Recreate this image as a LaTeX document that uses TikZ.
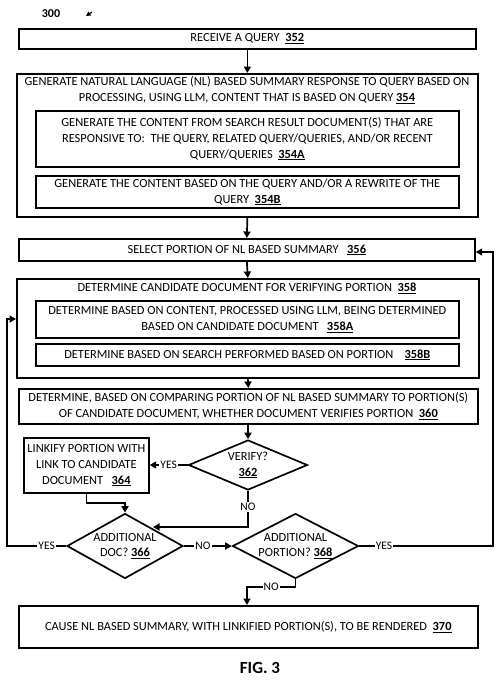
\documentclass[tikz,border=0pt]{standalone}
\usepackage{fontspec}
\setmainfont{Carlito}
\usetikzlibrary{shapes.geometric,arrows.meta}
\newcommand\rn[1]{\textbf{\underline{#1}}}
\begin{document}
\begin{tikzpicture}[x=1pt,y=-1pt,
  box/.style={draw,line width=1.7pt,inner sep=0pt,anchor=north west,align=center,font=\fontsize{12.4}{15.8}\selectfont},
  tx/.style={inner sep=0pt,align=center,font=\fontsize{12.4}{15.8}\selectfont},
  dia/.style={draw,line width=1.7pt,shape=diamond,inner sep=0pt,aspect=2,align=center,font=\fontsize{12.4}{15.8}\selectfont},
  arr/.style={line width=1.7pt,-{Triangle[length=6.5pt,width=7pt]}},
  lab/.style={fill=white,inner sep=1pt,font=\fontsize{11.5}{13}\selectfont}]
\useasboundingbox (0,0) rectangle (499,680);
\node[inner sep=0pt,font=\bfseries\fontsize{12}{14}\selectfont] (n300) at (51,14) {300};
\coordinate (p1) at (92,12);
\coordinate (p2) at (86,16);
\draw[line width=1.2pt,-{Triangle[length=4.5pt,width=4.5pt]}] (p1) -- (p2);

\node[box,minimum width=457pt,minimum height=20pt] (b352) at (18,28) {RECEIVE A QUERY\ \ \rn{352}};

\node[box,minimum width=461pt,minimum height=143pt] (b354) at (16,73) {};
\node[tx] (t354) at (247,90) {GENERATE NATURAL LANGUAGE (NL) BASED SUMMARY RESPONSE TO QUERY BASED ON\\PROCESSING, USING LLM, CONTENT THAT IS BASED ON QUERY \rn{354}};
\node[box,minimum width=423pt,minimum height=56pt] (b354a) at (35,110) {GENERATE THE CONTENT FROM SEARCH RESULT DOCUMENT(S) THAT ARE\\RESPONSIVE TO:\ \ THE QUERY, RELATED QUERY/QUERIES, AND/OR RECENT\\QUERY/QUERIES\ \ \rn{354A}};
\node[box,minimum width=423pt,minimum height=32pt] (b354b) at (35,175) {GENERATE THE CONTENT BASED ON THE QUERY AND/OR A REWRITE OF THE\\QUERY\ \ \rn{354B}};

\node[box,minimum width=456pt,minimum height=22pt] (b356) at (18,238) {SELECT PORTION OF NL BASED SUMMARY\ \ \ \rn{356}};

\node[box,minimum width=462pt,minimum height=99pt] (b358) at (16,278) {};
\node[tx] (t358) at (247,288) {DETERMINE CANDIDATE DOCUMENT FOR VERIFYING PORTION\ \ \rn{358}};
\node[box,minimum width=423pt,minimum height=37pt] (b358a) at (35,300) {DETERMINE BASED ON CONTENT, PROCESSED USING LLM, BEING DETERMINED\\BASED ON CANDIDATE DOCUMENT\ \ \ \rn{358A}};
\node[box,minimum width=423pt,minimum height=22pt] (b358b) at (35,343) {DETERMINE BASED ON SEARCH PERFORMED BASED ON PORTION\ \ \ \ \rn{358B}};

\node[box,minimum width=459pt,minimum height=35pt] (b360) at (18,388) {DETERMINE, BASED ON COMPARING PORTION OF NL BASED SUMMARY TO PORTION(S)\\OF CANDIDATE DOCUMENT, WHETHER DOCUMENT VERIFIES PORTION\ \ \rn{360}};

\node[dia,minimum width=119pt,minimum height=50pt] (d362) at (248,465) {VERIFY?\\\rn{362}};
\node[box,minimum width=125pt,minimum height=55pt] (b364) at (23,437) {LINKIFY PORTION WITH\\LINK TO CANDIDATE\\DOCUMENT\ \ \ \rn{364}};
\node[dia,minimum width=116pt,minimum height=65pt] (d366) at (125,546) {ADDITIONAL\\DOC? \rn{366}};
\node[dia,minimum width=125pt,minimum height=65pt] (d368) at (295.5,546) {ADDITIONAL\\PORTION? \rn{368}};

\node[box,minimum width=459pt,minimum height=42pt] (b370) at (18,605) {CAUSE NL BASED SUMMARY, WITH LINKIFIED PORTION(S), TO BE RENDERED\ \ \rn{370}};

\node[inner sep=0pt,font=\bfseries\fontsize{17}{20}\selectfont] (fig) at (260,668) {FIG. 3};

\draw[arr] (b352.south) -- (b354.north);
\draw[arr] (b354.south) -- (b356.north);
\draw[arr] (b356.south) -- (b358.north);
\draw[arr] (b358.south) -- (b360.north);
\draw[arr] (b360.south -| d362.north) -- (d362.north);
\draw[arr] (d362.west) -- node[lab]{YES} (d362.west -| b364.east);
\coordinate (c1) at (153,527);
\draw[arr] (d362.south) -- node[lab,pos=0.45]{NO} (d362.south |- c1) -- (c1);
\coordinate (c2) at (0,503);
\draw[arr] (b364.south) -- (b364.south |- c2) -| (d366.north);
\draw[arr] (d366.east) -- node[lab,pos=0.4]{NO} (d368.west);
\coordinate (c3) at (7,319);
\draw[arr] (d366.west) -- node[lab,pos=0.33]{YES} (d366.west -| c3) -- (c3) -- (c3 -| b358.west);
\coordinate (c4) at (493,252);
\draw[arr] (d368.east) -- node[lab,pos=0.185]{YES} (d368.east -| c4) -- (c4) -- (c4 -| b356.east);
\coordinate (c5) at (247,587);
\draw[arr] (d368.south) -- (d368.south |- c5) -- node[lab]{NO} (c5) -- (c5 |- b370.north);
\end{tikzpicture}
\end{document}
